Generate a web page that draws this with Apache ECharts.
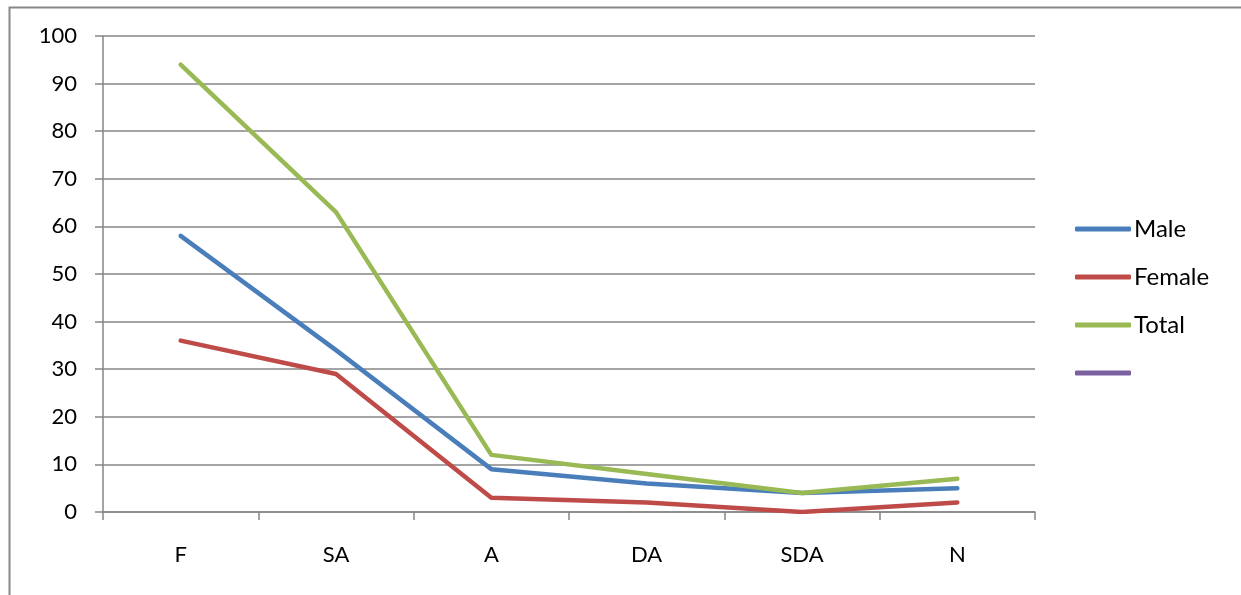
<!DOCTYPE html>
<html>
<head>
<meta charset="utf-8">
<script src="https://cdn.jsdelivr.net/npm/echarts@6/dist/echarts.min.js"></script>
<style>
html,body{margin:0;padding:0;background:#fff;}
#c{width:1241px;height:595px;}
</style>
</head>
<body>
<div id="c"></div>
<script>
const categories = ['F', 'SA', 'A', 'DA', 'SDA', 'N'];
const male = [58, 34, 9, 6, 4, 5];
const female = [36, 29, 3, 2, 0, 2];
const total = [94, 63, 12, 8, 4, 7];
const blank = [null, null, null, null, null, null];
const yTicks = {min: 0, max: 100, interval: 10};

const chart = echarts.init(document.getElementById('c'));
const font = 'Lato, "Open Sans", sans-serif';
function mk(name, data, color) {
  return {
    name: name, type: 'line', data: data, symbol: 'none',
    lineStyle: {color: color, width: 4.5, cap: 'round', join: 'round'},
    itemStyle: {color: color},
    animation: false
  };
}
chart.setOption({
  animation: false,
  graphic: [{
    type: 'rect', left: 7, top: 5, shape: {x: 0, y: 0, width: 1400, height: 800},
    style: {fill: 'none', stroke: '#888', lineWidth: 2}, silent: true, z: -1
  }],
  grid: {left: 103, right: 206, top: 36, bottom: 83, containLabel: false},
  xAxis: {
    type: 'category', data: categories, boundaryGap: true,
    axisLine: {lineStyle: {color: '#868686', width: 1.5}},
    axisTick: {show: true, length: 8, lineStyle: {color: '#868686', width: 1.5}},
    axisLabel: {color: '#000', fontFamily: font, fontSize: 22, margin: 32}
  },
  yAxis: {
    type: 'value', min: yTicks.min, max: yTicks.max, interval: yTicks.interval,
    axisLine: {show: true, lineStyle: {color: '#868686', width: 1.5}},
    axisTick: {show: true, length: 8, lineStyle: {color: '#868686', width: 1.5}},
    splitLine: {lineStyle: {color: '#868686', width: 1.5}},
    axisLabel: {color: '#000', fontFamily: font, fontSize: 22, margin: 26}
  },
  legend: {
    orient: 'vertical', left: 1075, top: 217, padding: 0,
    itemWidth: 56, itemHeight: 5, itemGap: 24, icon: 'roundRect',
    textStyle: {color: '#000', fontFamily: font, fontSize: 24, lineHeight: 24, padding: [0, 0, 0, -2]},
    data: ['Male', 'Female', 'Total', ' ']
  },
  series: [
    mk('Male', male, '#4A7EBB'),
    mk('Female', female, '#BE4B48'),
    mk('Total', total, '#98B954'),
    mk(' ', blank, '#7D60A0')
  ]
});
</script>
</body>
</html>
